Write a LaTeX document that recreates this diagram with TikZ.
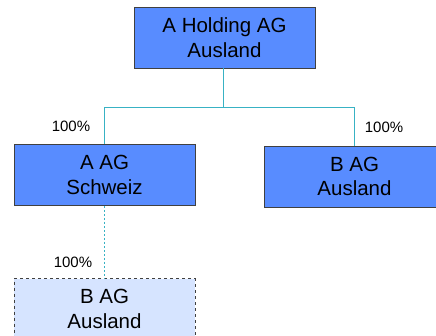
\documentclass[tikz,border=0pt]{standalone}
\usepackage{fontspec}
\setmainfont{Liberation Sans}
\begin{document}
\begin{tikzpicture}[x=1pt,y=-1pt,
  entity/.style={draw=black!75, line width=0.8pt, fill=firmblue, minimum width=181pt,
    minimum height=61pt, inner sep=0pt, align=center, font=\fontsize{20.5}{24.5}\selectfont},
  planned/.style={entity, fill=firmpale, dashed},
  link/.style={draw=linkteal, line width=0.8pt},
  share/.style={font=\fontsize{15}{16}\selectfont, inner sep=0pt}]
  \definecolor{firmblue}{RGB}{88,140,255}
  \definecolor{firmpale}{RGB}{214,228,255}
  \definecolor{linkteal}{RGB}{56,178,196}
  \useasboundingbox (0,0) rectangle (436,335);
  \clip (0,0) rectangle (436,335);
  % companies
  \node[entity] (hold) at (224.5,37.5) {A Holding AG\\Ausland};
  \node[entity] (aag)  at (104.5,175)  {A AG\\Schweiz};
  \node[entity] (bag)  at (354.5,176.5) {B AG\\Ausland};
  \node[planned] (bnew) at (104.5,309) {B AG\\Ausland};
  % ownership lines
  \coordinate (bus) at (223,107);
  \draw[link] (hold.south -| bus) -- (bus) -| (aag.north);
  \draw[link] (bus) -| (bag.north);
  \draw[link, dashed, dash pattern=on 2pt off 2pt] (aag.south) -- (bnew.north);
  % shareholdings
  \node[share] (p1) at (71,126) {100\%};
  \node[share] (p2) at (384,127) {100\%};
  \node[share] (p3) at (73,262) {100\%};
\end{tikzpicture}
\end{document}
